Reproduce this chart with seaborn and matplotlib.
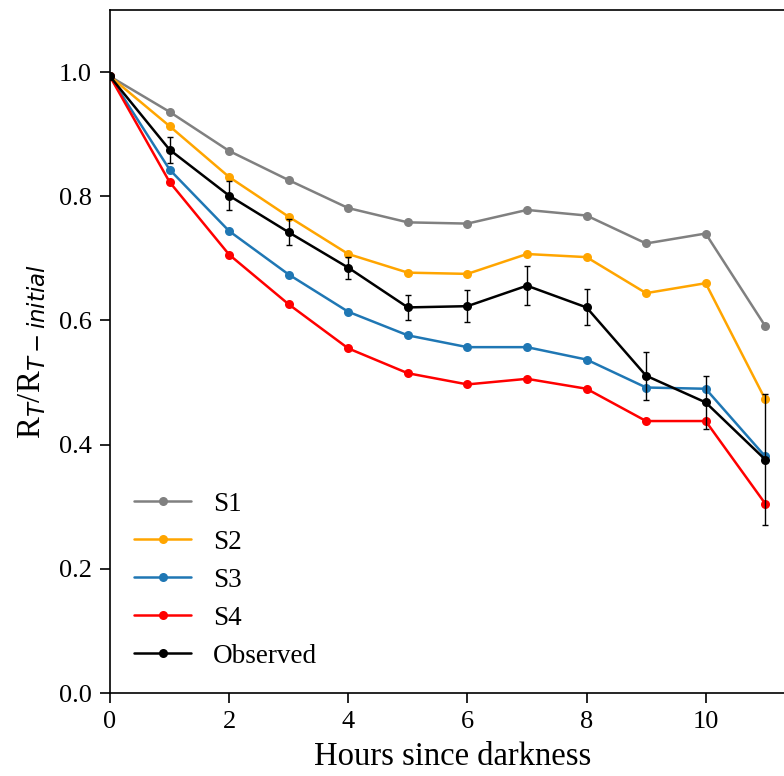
import numpy as np
import pandas as pd
import matplotlib
matplotlib.use("Agg")
import matplotlib.pyplot as plt
import seaborn as sns

# Hours since darkness
hours = [0, 1, 2, 3, 4, 5, 6, 7, 8, 9, 10, 11]

# Modelled scenarios (normalised respiration rate)
s1 = [0.993, 0.936, 0.873, 0.826, 0.781, 0.758, 0.756, 0.778, 0.769, 0.724, 0.740, 0.591]
s2 = [0.993, 0.913, 0.831, 0.767, 0.707, 0.677, 0.675, 0.707, 0.702, 0.644, 0.660, 0.473]
s3 = [0.993, 0.843, 0.744, 0.674, 0.614, 0.576, 0.557, 0.557, 0.537, 0.492, 0.490, 0.381]
s4 = [0.993, 0.823, 0.706, 0.626, 0.555, 0.515, 0.497, 0.506, 0.490, 0.438, 0.438, 0.305]

# Observed mean and its error
observed = [0.993, 0.875, 0.801, 0.742, 0.685, 0.621, 0.623, 0.656, 0.621, 0.511, 0.468, 0.376]
observed_err = [0.0, 0.021, 0.023, 0.021, 0.018, 0.020, 0.026, 0.031, 0.029, 0.039, 0.043, 0.105]

series_names = ["S1", "S2", "S3", "S4", "Observed"]
series_colors = ["#808080", "#FFA500", "#1f77b4", "#FF0000", "#000000"]

sns.set_style("ticks")
plt.rcParams["font.family"] = ["Liberation Serif", "DejaVu Serif"]
plt.rcParams["mathtext.fontset"] = "dejavusans"
for key in ["text.color", "axes.labelcolor", "axes.edgecolor", "xtick.color", "ytick.color"]:
    plt.rcParams[key] = "black"

fig = plt.figure(figsize=(7.84, 7.76), dpi=100)
ax = fig.add_axes([110 / 784, 83 / 776, 685 / 784, 683 / 776])

for name, vals, color in zip(series_names, [s1, s2, s3, s4, observed], series_colors):
    df = pd.DataFrame({"hour": hours, "value": vals})
    sns.lineplot(data=df, x="hour", y="value", color=color, marker="o",
                 markersize=6.5, markeredgewidth=0, linewidth=1.8,
                 label=name, ax=ax)

ax.errorbar(hours, observed, yerr=observed_err, fmt="none", ecolor="black",
            elinewidth=1, capsize=2.5, capthick=1, zorder=5)

ax.set_xlim(0, 11.5)
ax.set_ylim(0, 1.1)
ax.set_xticks([0, 2, 4, 6, 8, 10])
ax.set_yticks([0.0, 0.2, 0.4, 0.6, 0.8, 1.0])
ax.set_xlabel("Hours since darkness", fontsize=23.5, labelpad=6)
ax.set_ylabel(r"R$_{T}$/R$_{T-initial}$", fontsize=23.5, labelpad=8)
ax.tick_params(axis="both", labelsize=19, length=7, width=1.2, pad=6, direction="out")
for sp in ax.spines.values():
    sp.set_linewidth(1.2)

ax.legend(loc="lower left", frameon=False, fontsize=19.5, handlelength=2.1,
          handletextpad=0.8, labelspacing=0.48, bbox_to_anchor=(0.0, 0.0))

fig.savefig("out.png", dpi=100)
